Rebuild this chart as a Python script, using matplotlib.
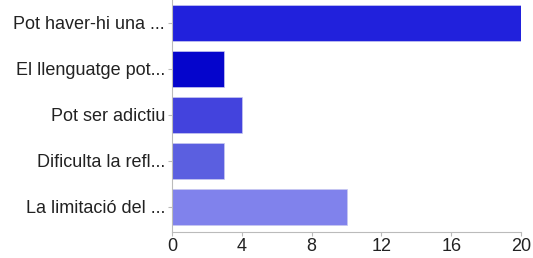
import matplotlib
matplotlib.use("Agg")
import matplotlib.pyplot as plt

categories = ["Pot haver-hi una ...", "El llenguatge pot...", "Pot ser adictiu",
              "Dificulta la refl...", "La limitació del ..."]
values = [20, 3, 4, 3, 10]
colors = ["#2121dc", "#0505cc", "#4343dd", "#5b5fe0", "#8082ec"]
xticks = [0, 4, 8, 12, 16, 20]

plt.rcParams['font.family'] = ['Liberation Sans', 'DejaVu Sans']
fig = plt.figure(figsize=(5.33, 2.58), dpi=100)
ax = fig.add_axes([172/533, 1-232/258, (521-172)/533, 232/258])
y = list(range(len(categories)))
ax.barh(y, values, height=0.78, color=colors, edgecolor="#c8c8f0", linewidth=0.5)
ax.set_ylim(4.55, -0.5)
ax.set_xlim(0, 20)
ax.set_yticks(y)
ax.set_yticklabels(categories, fontsize=13, color="#222222")
ax.set_xticks(xticks)
ax.set_xticklabels([str(t) for t in xticks], fontsize=13, color="#222222")
for s in ["top", "right"]:
    ax.spines[s].set_visible(False)
ax.spines["left"].set_color("#bbbbbb")
ax.spines["bottom"].set_color("#bbbbbb")
ax.tick_params(axis="y", length=3, color="#bbbbbb", pad=2)
ax.tick_params(axis="x", length=3, color="#bbbbbb", pad=1)
fig.savefig("out.png", dpi=100)
